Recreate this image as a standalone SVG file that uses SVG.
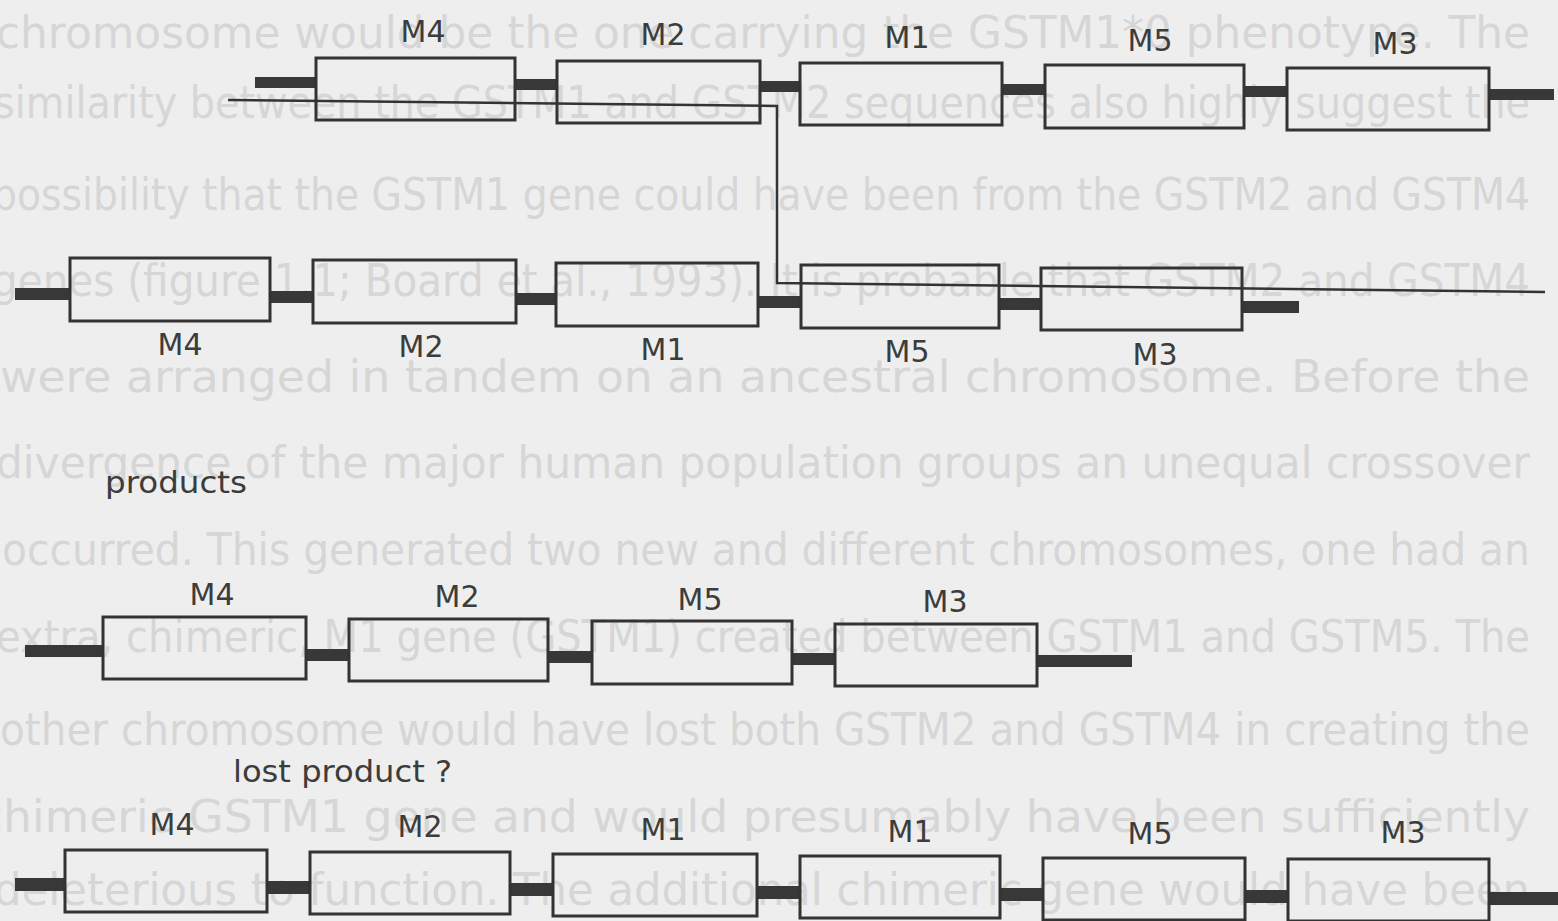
<svg xmlns="http://www.w3.org/2000/svg" width="1558" height="921" viewBox="0 0 1558 921">
  <style>
    .bg { fill: #eeeeee; }
    .bleed { font-family: "DejaVu Sans", "Liberation Sans", sans-serif; font-size: 44px; fill: #d6d6d6; }
    .box { fill: none; stroke: #333333; stroke-width: 3; }
    .bar { fill: #383838; }
    .thin { fill: none; stroke: #333333; stroke-width: 2.5; }
    .lbl { font-family: "DejaVu Sans", "Liberation Sans", sans-serif; font-size: 30px; fill: #3c3c3c; text-anchor: middle; }
    .cap { font-family: "DejaVu Sans", "Liberation Sans", sans-serif; font-size: 30px; fill: #3c3c3c; }
  </style>
  <rect class="bg" x="0" y="0" width="1558" height="921"/>

  <g id="show-through">
    <text class="bleed" x="-4" y="48" textLength="1534" lengthAdjust="spacingAndGlyphs">chromosome would be the one carrying the GSTM1*0 phenotype. The</text>
    <text class="bleed" x="-6" y="118" textLength="1536" lengthAdjust="spacingAndGlyphs">similarity between the GSTM1 and GSTM2 sequences also highly suggest the</text>
    <text class="bleed" x="-8" y="210" textLength="1538" lengthAdjust="spacingAndGlyphs">possibility that the GSTM1 gene could have been from the GSTM2 and GSTM4</text>
    <text class="bleed" x="-8" y="296" textLength="1538" lengthAdjust="spacingAndGlyphs">genes (figure 1.1; Board et al., 1993). It is probable that GSTM2 and GSTM4</text>
    <text class="bleed" x="0" y="392" textLength="1530" lengthAdjust="spacingAndGlyphs">were arranged in tandem on an ancestral chromosome. Before the</text>
    <text class="bleed" x="-4" y="478" textLength="1534" lengthAdjust="spacingAndGlyphs">divergence of the major human population groups an unequal crossover</text>
    <text class="bleed" x="2" y="565" textLength="1528" lengthAdjust="spacingAndGlyphs">occurred. This generated two new and different chromosomes, one had an</text>
    <text class="bleed" x="-4" y="652" textLength="1534" lengthAdjust="spacingAndGlyphs">extra, chimeric, M1 gene (GSTM1) created between GSTM1 and GSTM5. The</text>
    <text class="bleed" x="0" y="745" textLength="1530" lengthAdjust="spacingAndGlyphs">other chromosome would have lost both GSTM2 and GSTM4 in creating the</text>
    <text class="bleed" x="-22" y="832" textLength="1552" lengthAdjust="spacingAndGlyphs">chimeric GSTM1 gene and would presumably have been sufficiently</text>
    <text class="bleed" x="-6" y="905" textLength="1536" lengthAdjust="spacingAndGlyphs">deleterious to function. The additional chimeric gene would have been</text>
  </g>

  <g id="connectors">
    <!-- row 1 -->
    <rect class="bar" x="255" y="77" width="61" height="11"/>
    <rect class="bar" x="515" y="79" width="42" height="11"/>
    <rect class="bar" x="760" y="81" width="40" height="11"/>
    <rect class="bar" x="1002" y="84" width="43" height="11"/>
    <rect class="bar" x="1244" y="86" width="43" height="11"/>
    <rect class="bar" x="1489" y="89" width="65" height="11"/>
    <polyline class="thin" points="228,100 777,106 777,283 1545,292"/>
    <!-- row 2 -->
    <rect class="bar" x="15" y="288" width="55" height="12"/>
    <rect class="bar" x="270" y="291" width="43" height="12"/>
    <rect class="bar" x="516" y="293" width="40" height="12"/>
    <rect class="bar" x="758" y="296" width="43" height="12"/>
    <rect class="bar" x="999" y="298" width="42" height="12"/>
    <rect class="bar" x="1242" y="301" width="57" height="12"/>
    <!-- row 3 -->
    <rect class="bar" x="25" y="645" width="78" height="12"/>
    <rect class="bar" x="306" y="649" width="43" height="12"/>
    <rect class="bar" x="548" y="651" width="44" height="12"/>
    <rect class="bar" x="792" y="653" width="43" height="12"/>
    <rect class="bar" x="1037" y="655" width="95" height="12"/>
    <!-- row 4 -->
    <rect class="bar" x="15" y="878" width="50" height="13"/>
    <rect class="bar" x="267" y="881" width="43" height="13"/>
    <rect class="bar" x="510" y="883" width="43" height="13"/>
    <rect class="bar" x="757" y="886" width="43" height="13"/>
    <rect class="bar" x="1000" y="888" width="43" height="13"/>
    <rect class="bar" x="1245" y="890" width="43" height="13"/>
    <rect class="bar" x="1489" y="892" width="69" height="13"/>
  </g>

  <!-- row 1 -->
  <g id="r1-M4"><rect class="box" x="316" y="58" width="199" height="62"/><text class="lbl" x="423" y="42">M4</text></g>
  <g id="r1-M2"><rect class="box" x="557" y="61" width="203" height="62"/><text class="lbl" x="663" y="45">M2</text></g>
  <g id="r1-M1"><rect class="box" x="800" y="63" width="202" height="62"/><text class="lbl" x="907" y="48">M1</text></g>
  <g id="r1-M5"><rect class="box" x="1045" y="65" width="199" height="63"/><text class="lbl" x="1150" y="51">M5</text></g>
  <g id="r1-M3"><rect class="box" x="1287" y="68" width="202" height="62"/><text class="lbl" x="1395" y="54">M3</text></g>

  <!-- row 2 -->
  <g id="r2-M4"><rect class="box" x="70" y="258" width="200" height="63"/><text class="lbl" x="180" y="355">M4</text></g>
  <g id="r2-M2"><rect class="box" x="313" y="260" width="203" height="63"/><text class="lbl" x="421" y="357">M2</text></g>
  <g id="r2-M1"><rect class="box" x="556" y="263" width="202" height="63"/><text class="lbl" x="663" y="360">M1</text></g>
  <g id="r2-M5"><rect class="box" x="801" y="265" width="198" height="63"/><text class="lbl" x="907" y="362">M5</text></g>
  <g id="r2-M3"><rect class="box" x="1041" y="268" width="201" height="62"/><text class="lbl" x="1155" y="365">M3</text></g>

  <g id="label-products"><text class="cap" x="105" y="493" textLength="142" lengthAdjust="spacingAndGlyphs">products</text></g>

  <!-- row 3 -->
  <g id="r3-M4"><rect class="box" x="103" y="617" width="203" height="62"/><text class="lbl" x="212" y="605">M4</text></g>
  <g id="r3-M2"><rect class="box" x="349" y="619" width="199" height="62"/><text class="lbl" x="457" y="607">M2</text></g>
  <g id="r3-M5"><rect class="box" x="592" y="621" width="200" height="63"/><text class="lbl" x="700" y="610">M5</text></g>
  <g id="r3-M3"><rect class="box" x="835" y="624" width="202" height="62"/><text class="lbl" x="945" y="612">M3</text></g>

  <g id="label-lost"><text class="cap" x="233" y="782" textLength="219" lengthAdjust="spacingAndGlyphs">lost product ?</text></g>

  <!-- row 4 -->
  <g id="r4-M4"><rect class="box" x="65" y="850" width="202" height="62"/><text class="lbl" x="172" y="835">M4</text></g>
  <g id="r4-M2"><rect class="box" x="310" y="852" width="200" height="62"/><text class="lbl" x="420" y="837">M2</text></g>
  <g id="r4-M1a"><rect class="box" x="553" y="854" width="204" height="62"/><text class="lbl" x="663" y="840">M1</text></g>
  <g id="r4-M1b"><rect class="box" x="800" y="856" width="200" height="62"/><text class="lbl" x="910" y="842">M1</text></g>
  <g id="r4-M5"><rect class="box" x="1043" y="858" width="202" height="62"/><text class="lbl" x="1150" y="844">M5</text></g>
  <g id="r4-M3"><rect class="box" x="1288" y="859" width="201" height="62"/><text class="lbl" x="1403" y="843">M3</text></g>
</svg>
